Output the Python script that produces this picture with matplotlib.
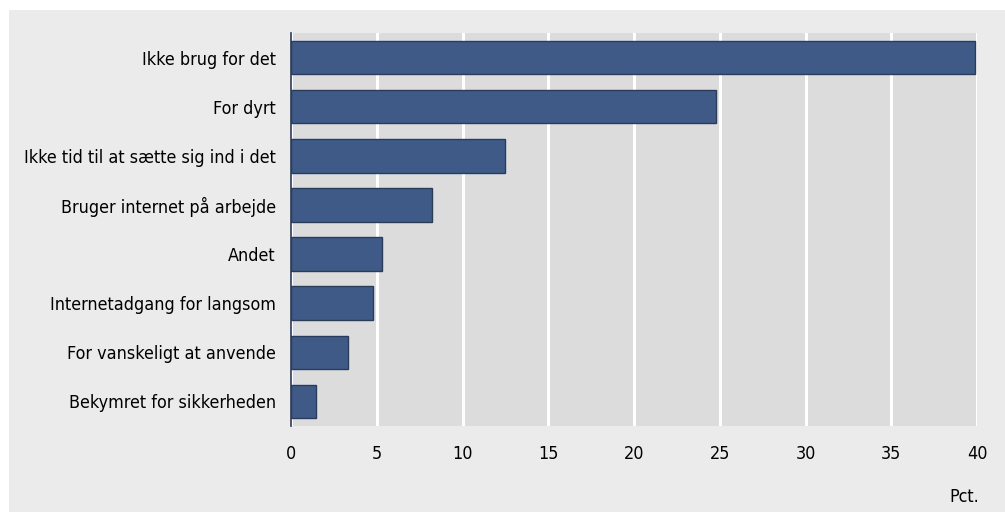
import matplotlib
matplotlib.use("Agg")
import matplotlib.pyplot as plt
from matplotlib.patches import Rectangle
from matplotlib import font_manager as fm

categories = [
    "Ikke brug for det",
    "For dyrt",
    "Ikke tid til at sætte sig ind i det",
    "Bruger internet på arbejde",
    "Andet",
    "Internetadgang for langsom",
    "For vanskeligt at anvende",
    "Bekymret for sikkerheden",
]
values = [39.9, 24.8, 12.5, 8.2, 5.3, 4.8, 3.3, 1.45]
xticks = [0, 5, 10, 15, 20, 25, 30, 35, 40]
unit_label = "Pct."

# choose a condensed font if one is installed
fp = None
for fam, stretch in [("Liberation Sans Narrow", "normal"),
                     ("DejaVu Sans", "condensed"),
                     ("Roboto Condensed", "normal"),
                     ("Open Sans Condensed", "normal")]:
    cand = fm.FontProperties(family=fam, stretch=stretch)
    try:
        path = fm.findfont(cand, fallback_to_default=False)
    except Exception:
        continue
    if "narrow" in path.lower() or "condensed" in path.lower():
        fp = fm.FontProperties(fname=path)
        break
if fp is None:
    fp = fm.FontProperties(family="DejaVu Sans")

W, H = 1005, 512
fig = plt.figure(figsize=(W / 100, H / 100), dpi=100, facecolor="white")
fig.patches.append(Rectangle((9 / W, 0), 1 - 9 / W, 1 - 10 / H,
                             transform=fig.transFigure, facecolor="#ebebeb",
                             edgecolor="none", zorder=-10))

left, right, top, bottom = 291, 977, 33, 426
ax = fig.add_axes([left / W, 1 - bottom / H, (right - left) / W, (bottom - top) / H])
ax.set_zorder(5)
ax.set_facecolor("#dcdcdc")

fs = 12.9
y = list(range(len(categories)))
ax.barh(y, values, height=0.68, color="#3f5a87", edgecolor="#2a3c5c",
        linewidth=1.0, zorder=3)
ax.set_ylim(len(categories) - 0.5, -0.5)
ax.set_xlim(0, 40)
ax.set_xticks(xticks)
ax.set_xticklabels([str(t) for t in xticks])
ax.set_yticks(y)
ax.set_yticklabels(categories)
for lab in ax.get_xticklabels() + ax.get_yticklabels():
    lab.set_fontproperties(fp)
    lab.set_fontsize(fs)
ax.tick_params(axis="y", length=0, pad=11)
ax.tick_params(axis="x", length=0, pad=14)
ax.xaxis.grid(True, color="white", linewidth=2.2, zorder=1)
ax.set_axisbelow(True)
for s in ["top", "right", "bottom"]:
    ax.spines[s].set_visible(False)
ax.spines["left"].set_color("#2a3c5c")
ax.spines["left"].set_linewidth(1.2)
ax.spines["left"].set_zorder(4)

t = fig.text(979 / W, 1 - 497 / H, unit_label, ha="right", va="center")
t.set_fontproperties(fp)
t.set_fontsize(fs)

fig.savefig("out.png", dpi=100, facecolor=fig.get_facecolor())
